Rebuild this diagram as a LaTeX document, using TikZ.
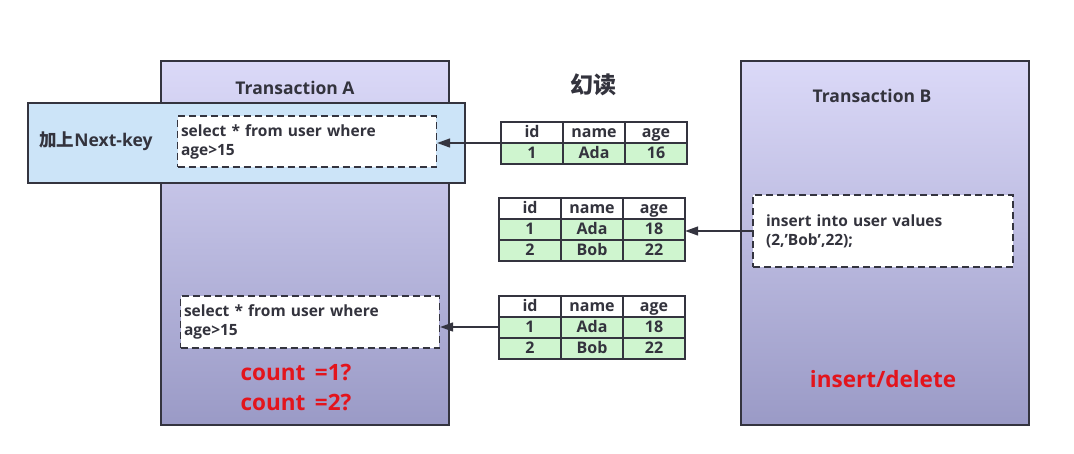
\documentclass[tikz,border=0pt]{standalone}
\usepackage{fontspec}
\setmainfont{Open Sans}
\newfontfamily\cjk{Noto Sans CJK SC}
\usetikzlibrary{positioning, arrows.meta}
\definecolor{rahmen}{HTML}{34343F}
\definecolor{textgrau}{HTML}{33333D}
\definecolor{lilaoben}{HTML}{DBD9F8}
\definecolor{lilaunten}{HTML}{9A9AC6}
\definecolor{hellblau}{HTML}{CCE4F8}
\definecolor{hellgruen}{HTML}{CFF5CF}
\definecolor{warnrot}{HTML}{E3141C}
\tikzset{
    transaktion/.style={
        draw=rahmen,
        line width=1.6pt,
        top color=lilaoben,      % Verlauf oben hell
        bottom color=lilaunten,  % unten dunkler
        minimum width=288pt,
        minimum height=364pt,
        inner sep=0pt
    },
    sperre/.style={
        draw=rahmen,
        line width=1.6pt,
        fill=hellblau,
        minimum width=437pt,
        minimum height=80pt,
        inner sep=0pt
    },
    abfrage/.style={
        draw=rahmen,
        dash pattern=on 7pt off 4pt,
        line width=1.6pt,
        fill=white,
        align=left,
        text=textgrau,
        font=\fontsize{15.5}{19}\selectfont\bfseries
    },
    zelle/.style={
        draw=rahmen,
        line width=1.5pt,
        minimum width=62pt,
        minimum height=21pt,
        inner sep=0pt,
        text height=11.5pt,
        text depth=2.5pt,
        text=textgrau,
        font=\fontsize{16}{18}\selectfont\bfseries
    },
    kopf/.style={zelle, fill=white},
    daten/.style={zelle, fill=hellgruen},
    tabelle/.style={minimum width=186pt, inner sep=0pt},
    titel/.style={text=textgrau, font=\fontsize{17.5}{20}\selectfont\bfseries},
    warnung/.style={text=warnrot, font=\fontsize{22.5}{26}\selectfont\bfseries},
    pfeil/.style={
        draw=rahmen,
        line width=1.5pt,
        -{Triangle[length=13pt, width=9pt]}
    }
}

\begin{document}
\begin{tikzpicture}[x=1pt, y=-1pt]

    % Hintergrund und Rahmen des Bildes
    \useasboundingbox (0,0) rectangle (1074,453);
    \fill[white] (0,0) rectangle (1074,453);

    % Transaktion A mit Next-Key-Sperre
    \node[transaktion] (transA) at (305,243) {};
    \node[titel] (titelA) at (295,88) {Transaction A};
    \node[sperre] (nextkey) at (246.5,143) {};
    \node[titel] (nextkeytext) at (96,141) {{\cjk 加上}Next-key};
    \node[abfrage, minimum width=258pt, minimum height=51pt, text width=252pt]
        (abfrage1) at (307,141.5) {select * from user where\\age>15};
    \node[abfrage, minimum width=258pt, minimum height=52pt, text width=252pt]
        (abfrage2) at (310,322) {select * from user where\\age>15};
    \node[warnung] (zaehler1) at (296,372) {count\, =1?};
    \node[warnung] (zaehler2) at (296,402) {count\, =2?};

    % Transaktion B
    \node[transaktion] (transB) at (885,243) {};
    \node[titel] (titelB) at (872,96) {Transaction B};
    \node[abfrage, minimum width=260pt, minimum height=72pt, text width=234pt]
        (einfuegen) at (883,231) {insert into user values\\(2,'Bob',22);};
    \node[warnung] (aendern) at (883,379) {insert/delete};

    % Ueberschrift
    \node[text=textgrau, font=\cjk\fontsize{23}{26}\selectfont\bfseries] (phantom) at (593,85) {幻读};

    % Tabelle 1
    \node[tabelle, minimum height=42pt] (tab1) at (594,143) {};
    \node[kopf] (t1k1) at (532,132.5) {id};
    \node[kopf] (t1k2) at (594,132.5) {name};
    \node[kopf] (t1k3) at (656,132.5) {age};
    \node[daten] (t1a1) at (532,153.5) {1};
    \node[daten] (t1a2) at (594,153.5) {Ada};
    \node[daten] (t1a3) at (656,153.5) {16};

    % Tabelle 2
    \node[tabelle, minimum height=63pt] (tab2) at (592,229.5) {};
    \node[kopf] (t2k1) at (530,208.5) {id};
    \node[kopf] (t2k2) at (592,208.5) {name};
    \node[kopf] (t2k3) at (654,208.5) {age};
    \node[daten] (t2a1) at (530,229.5) {1};
    \node[daten] (t2a2) at (592,229.5) {Ada};
    \node[daten] (t2a3) at (654,229.5) {18};
    \node[daten] (t2b1) at (530,250.5) {2};
    \node[daten] (t2b2) at (592,250.5) {Bob};
    \node[daten] (t2b3) at (654,250.5) {22};

    % Tabelle 3
    \node[tabelle, minimum height=62pt] (tab3) at (592,327) {};
    \node[kopf] (t3k1) at (530,306.5) {id};
    \node[kopf] (t3k2) at (592,306.5) {name};
    \node[kopf] (t3k3) at (654,306.5) {age};
    \node[daten] (t3a1) at (530,327.5) {1};
    \node[daten] (t3a2) at (592,327.5) {Ada};
    \node[daten] (t3a3) at (654,327.5) {18};
    \node[daten] (t3b1) at (530,348.5) {2};
    \node[daten] (t3b2) at (592,348.5) {Bob};
    \node[daten] (t3b3) at (654,348.5) {22};

    % Pfeile
    \draw[pfeil] (tab1.west) -- (abfrage1.east |- tab1.west);
    \draw[pfeil] (einfuegen.west) -- (tab2.east |- einfuegen.west);
    \draw[pfeil] (tab3.west) -- (abfrage2.east |- tab3.west);

\end{tikzpicture}
\end{document}
